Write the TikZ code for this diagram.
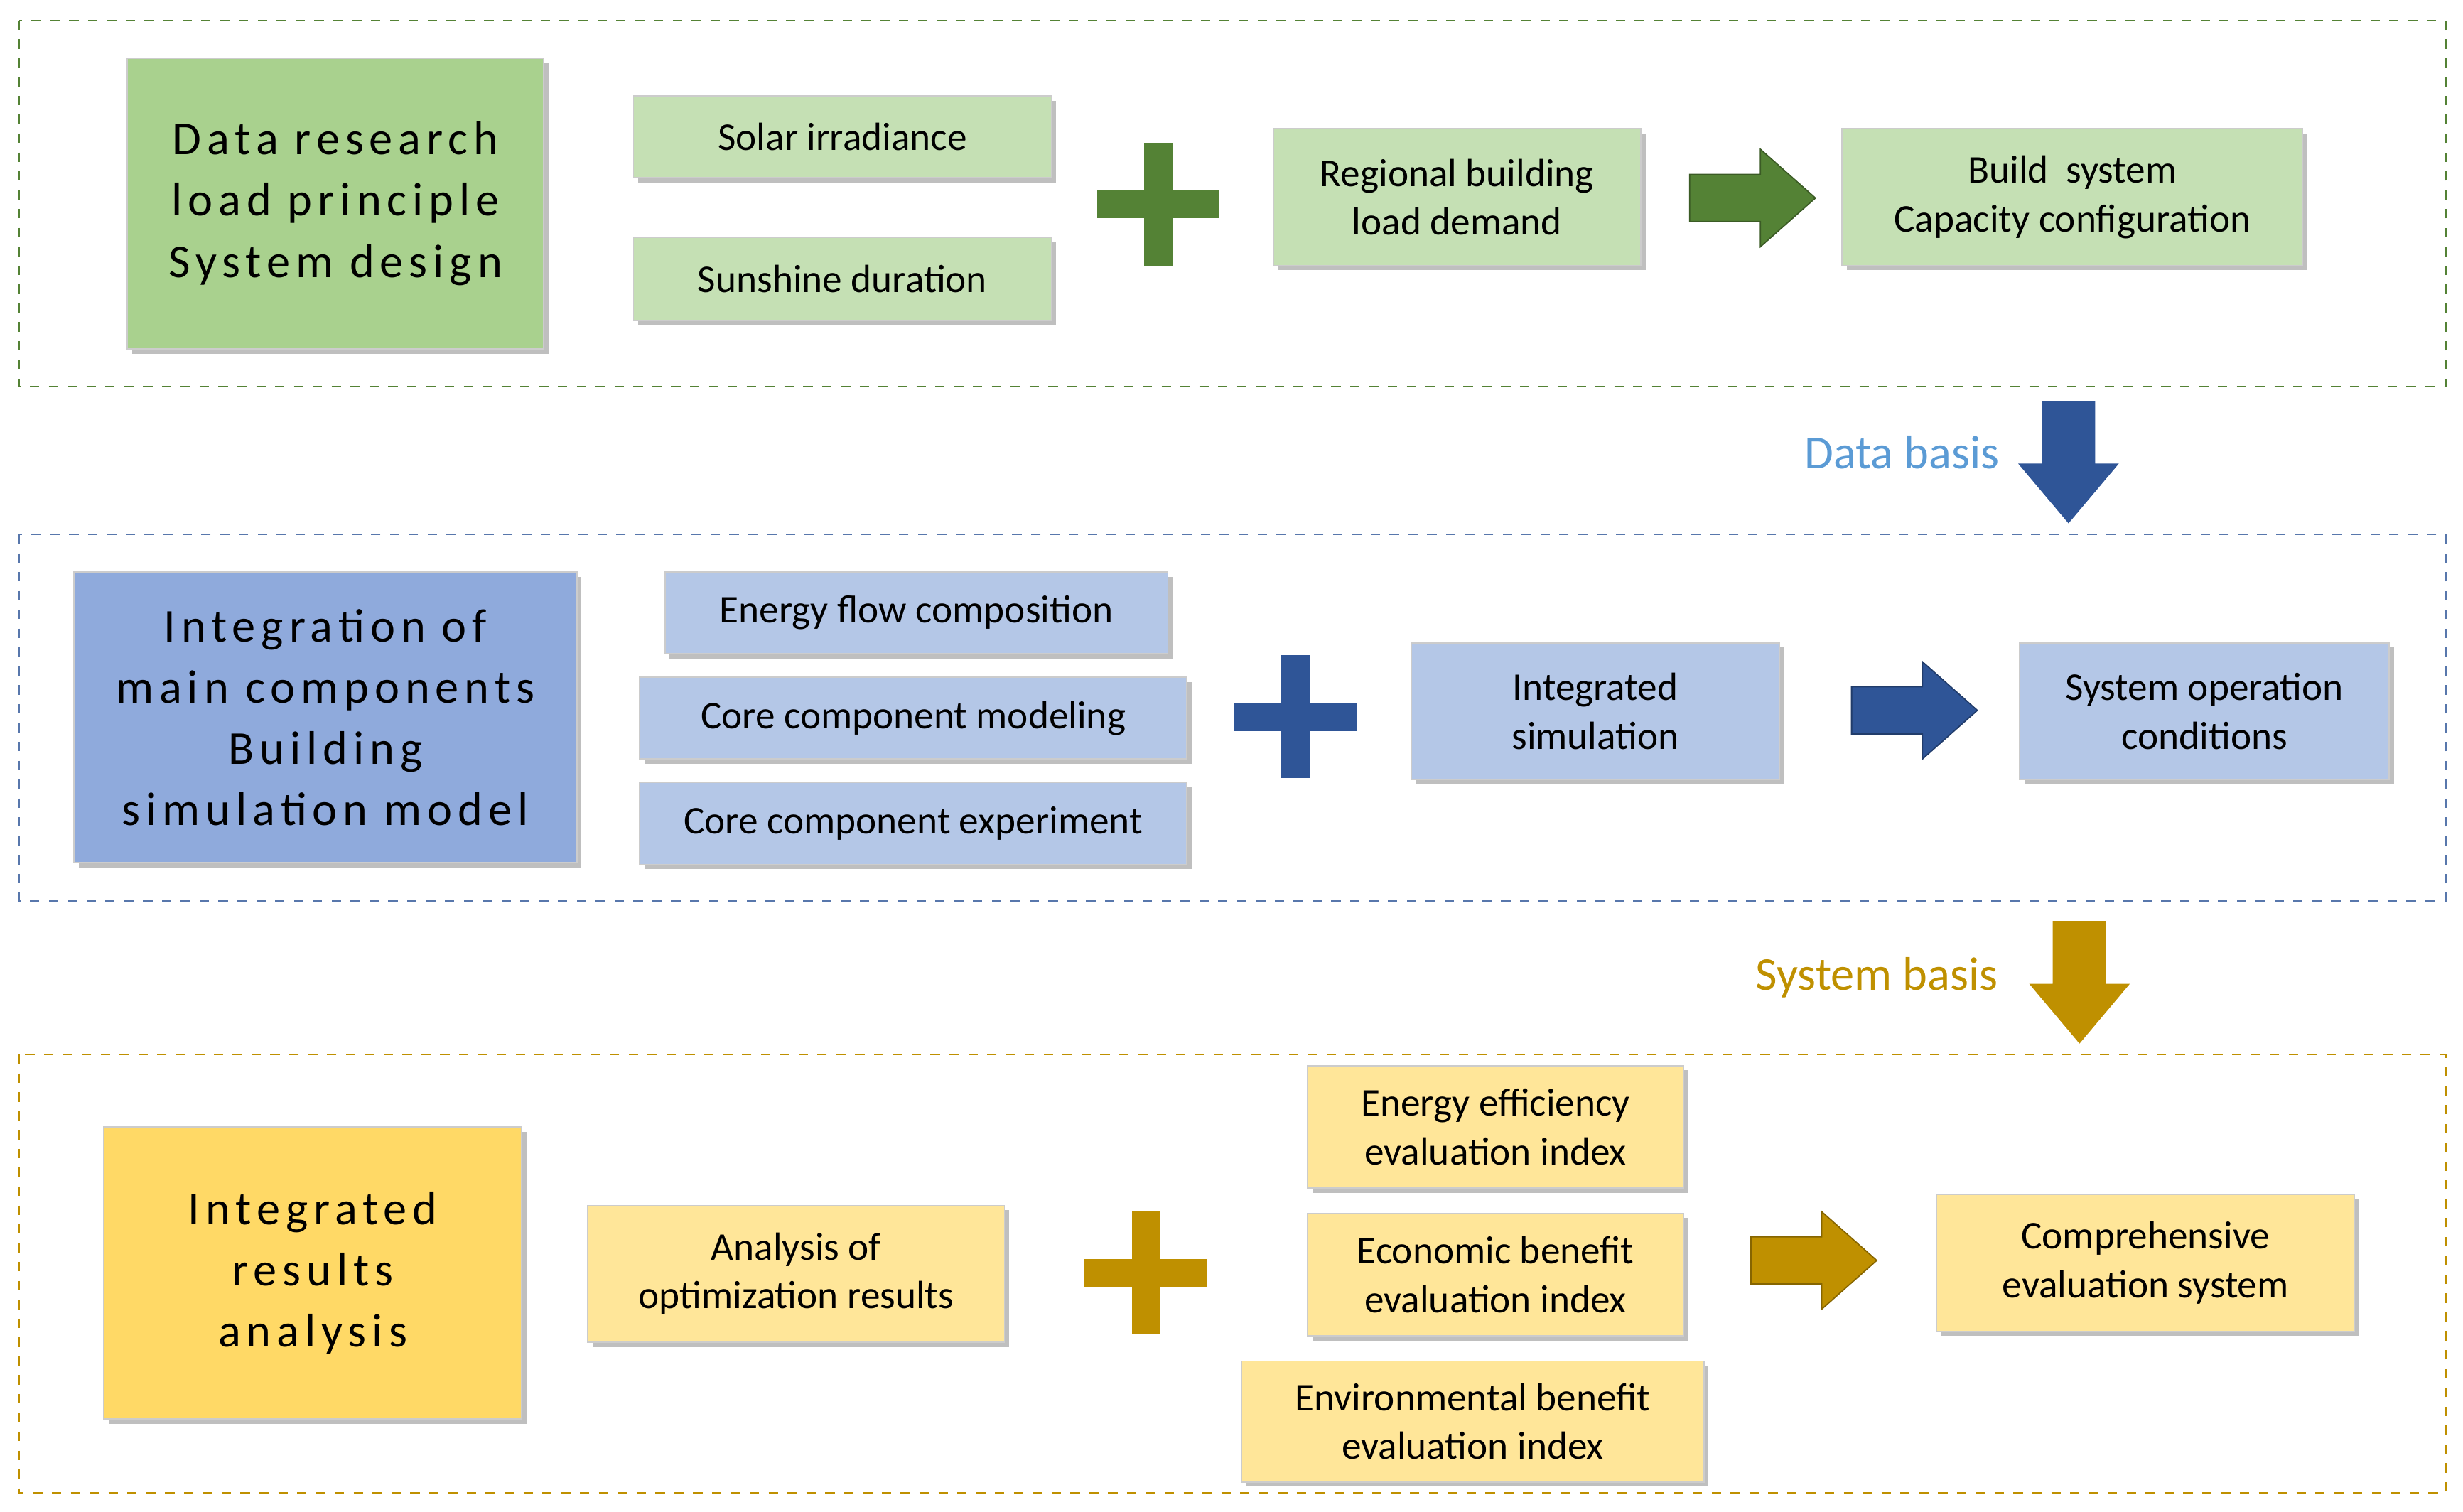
\documentclass[tikz,border=0pt]{standalone}
\usepackage{fontspec}
\setmainfont{Carlito}
\newfontfamily\spaced[LetterSpace=12]{Carlito}
\usetikzlibrary{shadows}
\definecolor{gD}{HTML}{548235}\definecolor{gB}{HTML}{A9D18E}\definecolor{gL}{HTML}{C5E0B4}
\definecolor{bD}{HTML}{2F5597}\definecolor{bB}{HTML}{8FAADC}\definecolor{bL}{HTML}{B4C7E7}
\definecolor{yD}{HTML}{BF9000}\definecolor{yB}{HTML}{FFD966}\definecolor{yL}{HTML}{FFE699}
\definecolor{dbl}{HTML}{5B9BD5}
\tikzset{box/.style={draw=white!80!black,line width=0.4pt,align=center,inner sep=0pt,font=\fontsize{12.5}{15.5}\selectfont,
  drop shadow={opacity=0.25,shadow xshift=1.5pt,shadow yshift=-1.5pt,fill=black}},
  big/.style={box,font=\spaced\fontsize{15}{19.5}\selectfont},
  panel/.style={dashed,line width=0.5pt}}
\newcommand\bx[8][box]{\node[#1,fill=#7,minimum width={(#5-#3)*0.5pt},minimum height={(#6-#4)*0.5pt}] (#2) at ({(#3+#5)/2},{(#4+#6)/2}) {#8};}
\newcommand\plus[4]{\fill[#4] (#2-39,#3-9)rectangle(#2+39,#3+9);\fill[#4](#2-9,#3-39)rectangle(#2+9,#3+39);\coordinate (#1) at (#2,#3);}
\newcommand\rarrow[5]{\fill[#5,draw=#5!70!black,line width=0.4pt] (#2,#4-15)--(#3-35,#4-15)--(#3-35,#4-31)--(#3,#4)--(#3-35,#4+31)--(#3-35,#4+15)--(#2,#4+15)--cycle;\coordinate (#1) at (#3,#4);}
\newcommand\darrow[5]{\fill[#5] (#2-17,#3)--(#2+17,#3)--(#2+17,#4-38)--(#2+32,#4-38)--(#2,#4)--(#2-32,#4-38)--(#2-17,#4-38)--cycle;\coordinate (#1) at (#2,#4);}
\begin{document}
\begin{tikzpicture}[x=0.5pt,y=-0.5pt]
\useasboundingbox (0,0) rectangle (1567,962);
\draw[panel,gD] (12,13) rectangle (1556,246);
\draw[panel,bD!80] (12,340) rectangle (1556,573);
\draw[panel,yD] (12,671) rectangle (1556,950);
% row 1
\bx[big]{a1}{81}{37}{346}{222}{gB}{Data research\\load principle\\System design}
\bx{a2}{403}{61}{669}{113}{gL}{Solar irradiance}
\bx{a3}{403}{151}{669}{204}{gL}{Sunshine duration}
\plus{p1}{737}{130}{gD}
\bx{a4}{810}{82}{1044}{169}{gL}{Regional building\\load demand}
\rarrow{r1}{1075}{1155}{126}{gD}
\bx{a5}{1172}{82}{1465}{169}{gL}{Build\ \ system\\Capacity configuration}
\node[text=dbl,font=\fontsize{15}{18}\selectfont] (t1) at (1210,288) {Data basis};
\darrow{d1}{1316}{255}{333}{bD}
% row 2
\bx[big]{b1}{47}{364}{367}{549}{bB}{Integration of\\main components\\Building\\simulation model}
\bx{b2}{423}{364}{743}{416}{bL}{Energy flow composition}
\bx{b3}{407}{431}{755}{483}{bL}{Core component modeling}
\bx{b4}{407}{498}{755}{550}{bL}{Core component experiment}
\plus{p2}{824}{456}{bD}
\bx{b5}{898}{409}{1132}{496}{bL}{Integrated\\simulation}
\rarrow{r2}{1178}{1258}{452}{bD}
\bx{b6}{1285}{409}{1520}{496}{bL}{System operation\\conditions}
\node[text=yD,font=\fontsize{15}{18}\selectfont] (t2) at (1194,622) {System basis};
\darrow{d2}{1323}{586}{664}{yD}
% row 3
\bx[big]{c1}{66}{717}{332}{903}{yB}{Integrated\\results\\analysis}
\bx{c2}{374}{767}{639}{854}{yL}{Analysis of\\optimization results}
\plus{p3}{729}{810}{yD}
\bx{c3}{832}{678}{1071}{756}{yL}{Energy efficiency\\evaluation index}
\bx{c4}{832}{772}{1071}{850}{yL}{Economic benefit\\evaluation index}
\bx{c5}{790}{866}{1084}{943}{yL}{Environmental benefit\\evaluation index}
\rarrow{r3}{1114}{1194}{802}{yD}
\bx{c6}{1232}{760}{1498}{847}{yL}{Comprehensive\\evaluation system}
\end{tikzpicture}
\end{document}
